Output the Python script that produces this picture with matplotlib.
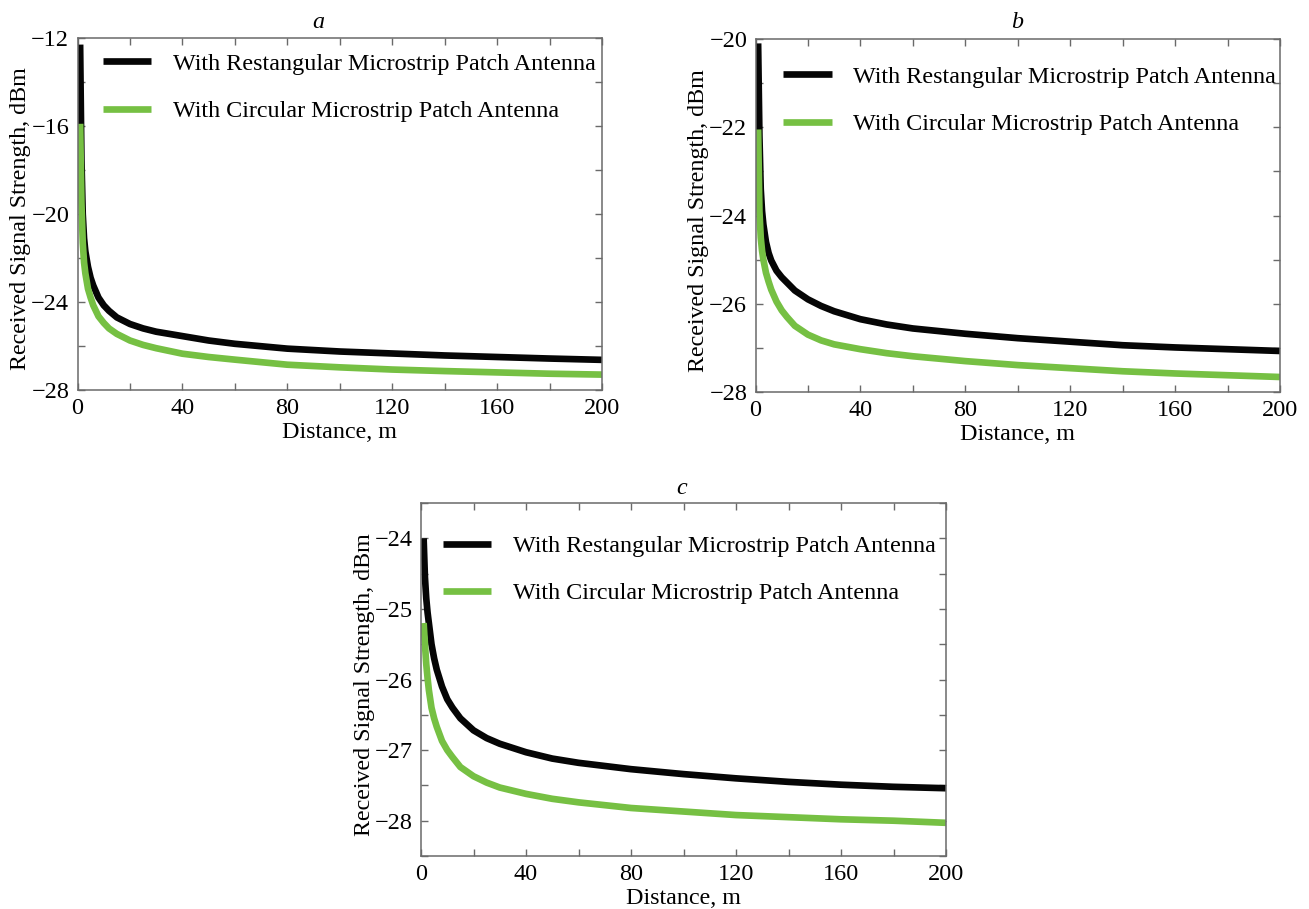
import matplotlib
matplotlib.use("Agg")
import matplotlib.pyplot as plt
from matplotlib.ticker import MultipleLocator

plt.rcParams['font.family'] = ['Liberation Serif', 'DejaVu Serif']
plt.rcParams['mathtext.fontset'] = 'stix'

# ---------------- data ----------------
distance = [1, 1.5, 2, 2.5, 3, 4, 5, 6, 8, 10, 12, 15, 20, 25, 30, 40, 50, 60,
            80, 100, 120, 140, 160, 180, 200]

a_rect = [-12.3, -17.5, -20.0, -21.1, -21.7, -22.4, -22.9, -23.25, -23.8, -24.15,
          -24.4, -24.7, -25.0, -25.2, -25.35, -25.55, -25.75, -25.9,
          -26.12, -26.25, -26.34, -26.43, -26.5, -26.57, -26.63]
a_circ = [-15.9, -19.5, -21.3, -22.2, -22.7, -23.4, -23.8, -24.15, -24.65, -24.95,
          -25.2, -25.45, -25.75, -25.95, -26.1, -26.35, -26.5, -26.62,
          -26.85, -26.97, -27.07, -27.14, -27.2, -27.26, -27.3]

b_rect = [-20.1, -22.2, -23.4, -23.9, -24.2, -24.6, -24.85, -25.02, -25.25, -25.4,
          -25.52, -25.7, -25.9, -26.05, -26.17, -26.35, -26.47, -26.56,
          -26.68, -26.78, -26.86, -26.94, -26.99, -27.03, -27.07]
b_circ = [-22.05, -23.9, -24.5, -24.8, -25.0, -25.3, -25.5, -25.68, -25.95, -26.15,
          -26.3, -26.5, -26.7, -26.83, -26.92, -27.03, -27.12, -27.19,
          -27.3, -27.39, -27.46, -27.53, -27.58, -27.62, -27.66]

c_rect = [-24.0, -24.55, -24.85, -25.05, -25.2, -25.5, -25.7, -25.86, -26.1, -26.28,
          -26.4, -26.55, -26.72, -26.83, -26.91, -27.03, -27.12, -27.18,
          -27.27, -27.34, -27.4, -27.45, -27.49, -27.52, -27.54]
c_circ = [-25.2, -25.5, -25.78, -25.98, -26.15, -26.4, -26.55, -26.67, -26.87, -27.0,
          -27.1, -27.24, -27.37, -27.46, -27.53, -27.62, -27.69, -27.74,
          -27.82, -27.87, -27.92, -27.95, -27.98, -28.0, -28.03]

series_names = ["With Restangular Microstrip Patch Antenna",
                "With Circular Microstrip Patch Antenna"]
panel_letters = ["a", "b", "c"]
x_label = "Distance, m"
y_label = "Received Signal Strength, dBm"

# ---------------- layout ----------------
W, H = 1309, 909
fig = plt.figure(figsize=(W / 100, H / 100), dpi=100)
fig.patch.set_facecolor('white')

def px_axes(left, right, top, bottom):
    return fig.add_axes([left / W, 1 - bottom / H, (right - left) / W, (bottom - top) / H])

panels = [
    dict(box=(77.5, 602, 38, 390), ylim=(-28, -12), ymaj=4, ymin=2, rect=a_rect, circ=a_circ,
         leg=(0.048, 0.958), title=(318, 22)),
    dict(box=(755.5, 1280, 39, 392), ylim=(-28, -20), ymaj=2, ymin=1, rect=b_rect, circ=b_circ,
         leg=(0.053, 0.924), title=(1017, 22)),
    dict(box=(421, 946, 503, 856), ylim=(-28.5, -23.5), ymaj=1, ymin=0.5, rect=c_rect, circ=c_circ,
         leg=(0.042, 0.909), title=(682, 488)),
]

black = '#050505'
green = '#76c043'
spine_col = '#6a6a6a'
fs_tick = 17.5
fs_label = 17.3
fs_leg = 17.4

for p, letter in zip(panels, panel_letters):
    ax = px_axes(*p['box'])
    ax.plot(distance, p['rect'], color=black, lw=4.8, solid_capstyle='butt',
            solid_joinstyle='round', label=series_names[0])
    ax.plot(distance, p['circ'], color=green, lw=4.8, solid_capstyle='butt',
            solid_joinstyle='round', label=series_names[1])
    ax.set_xlim(0, 200)
    ax.set_ylim(*p['ylim'])
    ax.xaxis.set_major_locator(MultipleLocator(40))
    ax.xaxis.set_minor_locator(MultipleLocator(20))
    ax.yaxis.set_major_locator(MultipleLocator(p['ymaj']))
    ax.yaxis.set_minor_locator(MultipleLocator(p['ymin']))
    ax.tick_params(which='both', direction='in', top=True, right=True, length=5,
                   width=1, color=spine_col, labelsize=fs_tick, pad=6)
    for s in ax.spines.values():
        s.set_color(spine_col)
        s.set_linewidth(1.1)
    ax.set_xlabel(x_label, fontsize=fs_label, labelpad=2)
    ax.set_ylabel(y_label, fontsize=fs_label, labelpad=0)
    ax.yaxis.label.set_y(0.486)
    ax.legend(loc='upper left', bbox_to_anchor=p['leg'], frameon=False,
              fontsize=fs_leg, handlelength=2.0, handletextpad=0.9,
              labelspacing=1.05, borderaxespad=0, borderpad=0)
    tx, ty = p['title']
    fig.text(tx / W, 1 - ty / H, letter, ha='center', va='center',
             fontsize=fs_label, style='italic')

fig.savefig('out.png', dpi=100, facecolor='white')
